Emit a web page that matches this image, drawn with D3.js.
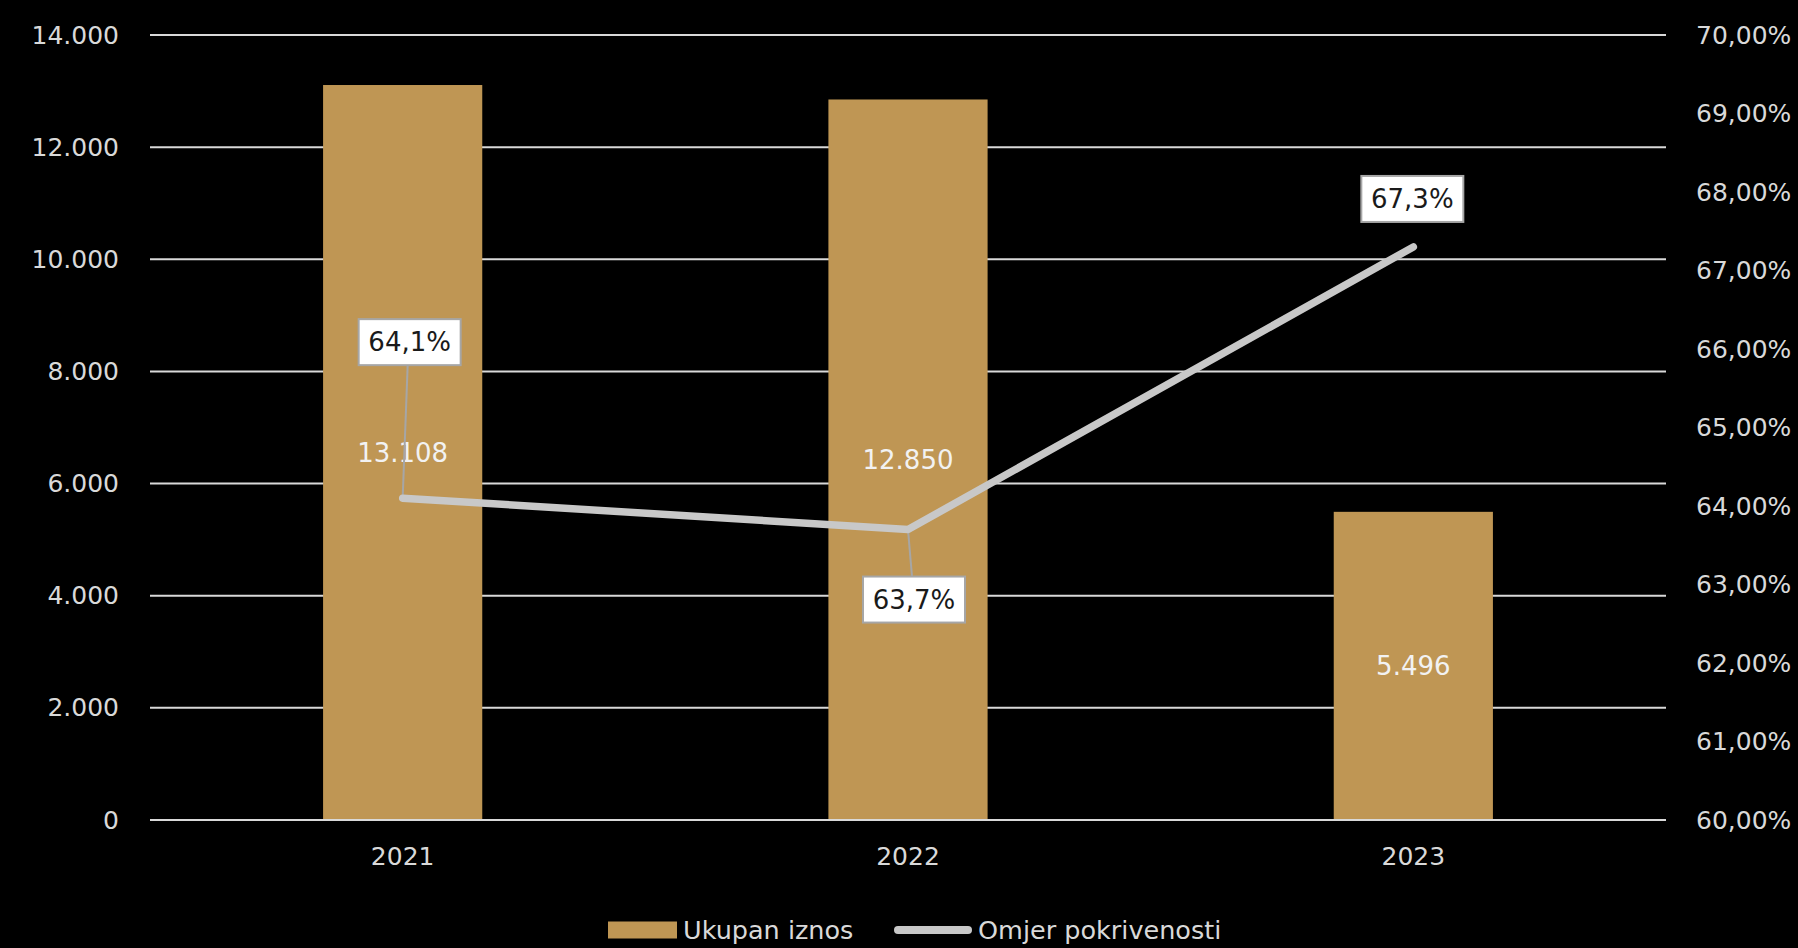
<!DOCTYPE html>
<html>
<head>
<meta charset="utf-8">
<script src="https://cdn.jsdelivr.net/npm/d3@7"></script>
<style>
  html, body { margin: 0; padding: 0; background: #000; }
  svg { display: block; }
  text { font-family: "DejaVu Sans", Verdana, sans-serif; }
</style>
</head>
<body>
<svg id="chart" width="1798" height="948"></svg>
<script>
// ---- data ----
const categories = ["2021", "2022", "2023"];
const amounts = [13108, 12850, 5496];             // Ukupan iznos
const ratios = [0.641, 0.637, 0.673];             // Omjer pokrivenosti
const amountLabels = ["13.108", "12.850", "5.496"];
const ratioLabels = ["64,1%", "63,7%", "67,3%"];
const leftTicks = [0, 2000, 4000, 6000, 8000, 10000, 12000, 14000];
const rightTicks = [0.60, 0.61, 0.62, 0.63, 0.64, 0.65, 0.66, 0.67, 0.68, 0.69, 0.70];
const seriesNames = ["Ukupan iznos", "Omjer pokrivenosti"];

// ---- layout ----
const plot = { left: 150, right: 1666, top: 35, bottom: 820 };
const gold = "#BF9654";
const lineGray = "#C8C8C8";
const gridColor = "#D9D9D9";
const axisText = "#D9D9D9";
const fontSize = 25;
// label box offsets relative to the line point (layout, not data)
const labelOffsets = [[7, -156], [6, 70], [-1, -48]];

const svg = d3.select("#chart");
svg.append("rect").attr("width", 1798).attr("height", 948).attr("fill", "#000");

const x = d3.scaleBand().domain(categories).range([plot.left, plot.right]).padding(0);
const yL = d3.scaleLinear().domain([0, 14000]).range([plot.bottom, plot.top]);
const yR = d3.scaleLinear().domain([0.60, 0.70]).range([plot.bottom, plot.top]);
const barW = x.bandwidth() * 0.315;
const cx = d => x(d) + x.bandwidth() / 2;

// gridlines
svg.append("g").selectAll("line").data(leftTicks).join("line")
  .attr("x1", plot.left).attr("x2", plot.right)
  .attr("y1", d => yL(d)).attr("y2", d => yL(d))
  .attr("stroke", gridColor).attr("stroke-width", 2);

// left axis
const fmtL = d => d3.format(",")(d).replace(/,/g, ".");
const leftAxis = d3.axisLeft(yL).tickValues(leftTicks).tickFormat(fmtL).tickSize(0).tickPadding(0);
const gL = svg.append("g").attr("transform", `translate(${plot.left - 31},0)`).call(leftAxis);
gL.select(".domain").remove();
gL.selectAll("text").attr("fill", axisText).style("font-size", fontSize + "px")
  .style("font-family", '"DejaVu Sans", Verdana, sans-serif');

// right axis
const fmtR = d => d3.format(".2f")(d * 100).replace(".", ",") + "%";
const rightAxis = d3.axisRight(yR).tickValues(rightTicks).tickFormat(fmtR).tickSize(0).tickPadding(0);
const gR = svg.append("g").attr("transform", `translate(${plot.right + 30},0)`).call(rightAxis);
gR.select(".domain").remove();
gR.selectAll("text").attr("fill", axisText).style("font-size", fontSize + "px")
  .style("font-family", '"DejaVu Sans", Verdana, sans-serif');

// bottom axis
const bottomAxis = d3.axisBottom(x).tickSize(0).tickPadding(0);
const gB = svg.append("g").attr("transform", `translate(0,${plot.bottom + 27})`).call(bottomAxis);
gB.select(".domain").remove();
gB.selectAll("text").attr("fill", axisText).style("font-size", fontSize + "px")
  .style("font-family", '"DejaVu Sans", Verdana, sans-serif');

// bars
svg.append("g").selectAll("rect").data(categories).join("rect")
  .attr("x", d => cx(d) - barW / 2)
  .attr("width", barW)
  .attr("y", (d, i) => yL(amounts[i]))
  .attr("height", (d, i) => yL(0) - yL(amounts[i]))
  .attr("fill", gold);

// baseline redraw over bars
svg.append("line").attr("x1", plot.left).attr("x2", plot.right)
  .attr("y1", yL(0)).attr("y2", yL(0)).attr("stroke", gridColor).attr("stroke-width", 2);

// bar value labels (centered)
svg.append("g").selectAll("text").data(categories).join("text")
  .attr("x", d => cx(d))
  .attr("y", (d, i) => (yL(amounts[i]) + yL(0)) / 2)
  .attr("text-anchor", "middle").attr("dominant-baseline", "central")
  .attr("fill", "#F2F2F2").style("font-size", "26px")
  .text((d, i) => amountLabels[i]);

// line
const pts = categories.map((c, i) => [cx(c), yR(ratios[i])]);
const lineGen = d3.line();

// leader lines
const boxW = 102, boxH = 46;
const leaders = svg.append("g");
pts.forEach((p, i) => {
  const [dx, dy] = labelOffsets[i];
  const bx = p[0] + dx, by = p[1] + dy;
  if (Math.abs(dy) > 60) {
    const ey = dy < 0 ? by + boxH / 2 : by - boxH / 2;
    leaders.append("line").attr("x1", p[0]).attr("y1", p[1]).attr("x2", bx - 2).attr("y2", ey)
      .attr("stroke", "#A6A6A6").attr("stroke-width", 2);
  }
});

svg.append("path").attr("d", lineGen(pts))
  .attr("fill", "none").attr("stroke", lineGray).attr("stroke-width", 7.5)
  .attr("stroke-linecap", "round").attr("stroke-linejoin", "round");

// ratio label boxes
const boxes = svg.append("g");
pts.forEach((p, i) => {
  const [dx, dy] = labelOffsets[i];
  const bx = p[0] + dx, by = p[1] + dy;
  boxes.append("rect").attr("x", bx - boxW / 2).attr("y", by - boxH / 2)
    .attr("width", boxW).attr("height", boxH)
    .attr("fill", "#FFFFFF").attr("stroke", "#A6A6A6").attr("stroke-width", 2);
  boxes.append("text").attr("x", bx).attr("y", by)
    .attr("text-anchor", "middle").attr("dominant-baseline", "central")
    .attr("fill", "#1A1A1A").style("font-size", "26px")
    .text(ratioLabels[i]);
});

// legend
const legY = 930;
const leg = svg.append("g");
leg.append("rect").attr("x", 608).attr("y", legY - 8.5).attr("width", 69).attr("height", 17).attr("fill", gold);
leg.append("text").attr("x", 683).attr("y", legY).attr("dominant-baseline", "central")
  .attr("fill", axisText).style("font-size", "25.5px").text(seriesNames[0]);
leg.append("line").attr("x1", 898).attr("x2", 968).attr("y1", legY).attr("y2", legY)
  .attr("stroke", lineGray).attr("stroke-width", 8).attr("stroke-linecap", "round");
leg.append("text").attr("x", 978).attr("y", legY).attr("dominant-baseline", "central")
  .attr("fill", axisText).style("font-size", "25.5px").text(seriesNames[1]);
</script>
</body>
</html>
